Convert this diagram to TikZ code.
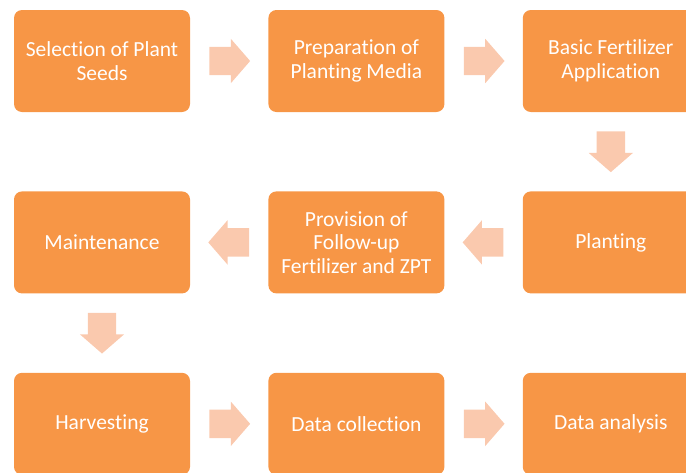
\documentclass[tikz,border=0pt]{standalone}
\usepackage{fontspec}
\setmainfont{Carlito}[Ligatures=NoCommon]
\usetikzlibrary{shapes.arrows,positioning,calc}
\definecolor{stageorange}{HTML}{F79646}
\definecolor{flowpeach}{HTML}{FAC9AE}
\tikzset{
    stage/.style={fill=stageorange, rounded corners=8pt, minimum width=176pt, minimum height=102pt, text=white, align=center, font=\fontsize{21.5}{23.5}\selectfont},
    flow/.style={single arrow, anchor=tail, fill=flowpeach, minimum height=39pt, inner sep=14pt, single arrow head extend=8pt, single arrow tip angle=98}
}

\begin{document}
\begin{tikzpicture}[node distance=79pt and 78pt]
            \useasboundingbox (0,0) rectangle (686pt,-472pt);

            \node[stage] (seeds) at (102pt,-61pt) {Selection of Plant\\Seeds};
            \node[stage, right=of seeds] (media) {Preparation of\\Planting Media};
            \node[stage, right=of media] (basic) {Basic Fertilizer\\Application};
            \node[stage, below=of basic] (plant) {Planting};
            \node[stage, below=of media] (follow) {Provision of\\Follow-up\\Fertilizer and ZPT};
            \node[stage, below=of seeds] (maint) {Maintenance};
            \node[stage, below=of maint] (harvest) {Harvesting};
            \node[stage, right=of harvest] (collect) {Data collection};
            \node[stage, right=of collect] (analysis) {Data analysis};

            \node[flow] (f1) at ($(seeds.east)+(19pt,0)$) {};
            \node[flow] (f2) at ($(media.east)+(19pt,0)$) {};
            \node[flow, rotate=-90] (f3) at ($(basic.south)+(0,-19pt)$) {};
            \node[flow, rotate=180] (f4) at ($(plant.west)+(-19pt,0)$) {};
            \node[flow, rotate=180] (f5) at ($(follow.west)+(-19pt,0)$) {};
            \node[flow, rotate=-90] (f6) at ($(maint.south)+(0,-19pt)$) {};
            \node[flow] (f7) at ($(harvest.east)+(19pt,0)$) {};
            \node[flow] (f8) at ($(collect.east)+(19pt,0)$) {};
        \end{tikzpicture}
\end{document}
